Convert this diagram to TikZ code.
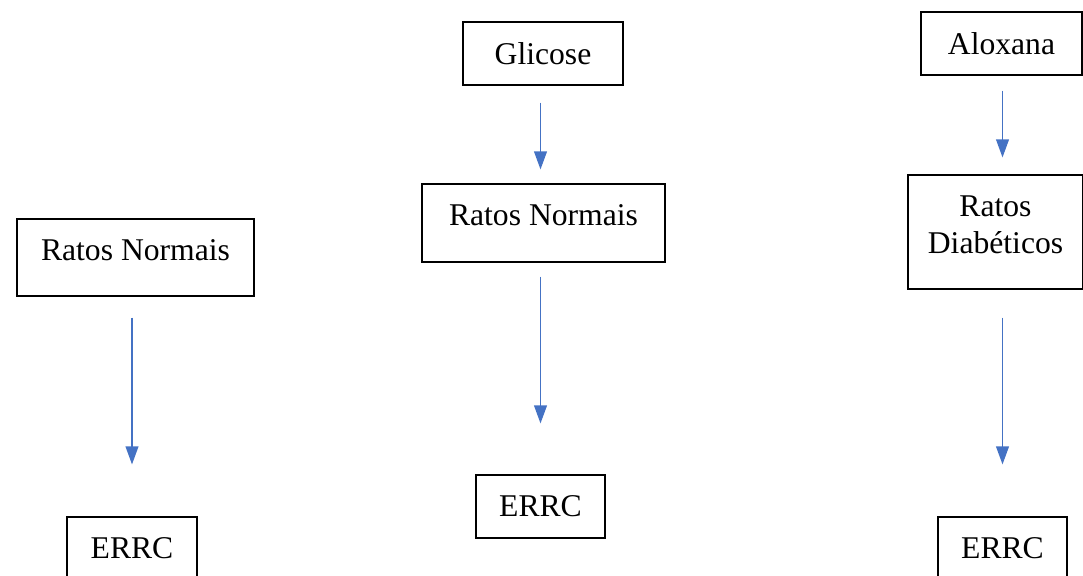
\documentclass[tikz,border=0pt]{standalone}
\usepackage{fontspec}
\setmainfont{Liberation Serif}
\usetikzlibrary{arrows.meta,positioning}

\definecolor{arrowblue}{RGB}{68,114,196}

\begin{document}
\begin{tikzpicture}[x=0.025cm,y=-0.025cm,>={Triangle[length=0.45cm,width=0.32cm]},
  box/.style={draw,line width=0.8pt,rectangle,inner sep=0pt,align=center,
    font=\fontsize{22.5}{26.3}\selectfont},
  tallbox/.style={box,text depth=11pt},
  flow/.style={->,arrowblue,line width=1pt}]
\useasboundingbox (0,0) rectangle (1083,575);
% left column
\node[tallbox,minimum width=5.925cm,minimum height=1.925cm] (rnA) at (135.5,257.5) {Ratos Normais};
\node[box,minimum width=3.25cm,minimum height=1.575cm] (errcA) at (132,548.5) {ERRC};
% middle column
\node[box,minimum width=4cm,minimum height=1.575cm] (glic) at (543,53.5) {Glicose};
\node[tallbox,minimum width=6.075cm,minimum height=1.95cm] (rnB) at (543.5,223) {Ratos Normais};
\node[box,minimum width=3.225cm,minimum height=1.575cm] (errcB) at (540.5,506.5) {ERRC};
% right column
\node[box,minimum width=4.025cm,minimum height=1.575cm] (alox) at (1001.5,43.5) {Aloxana};
\node[tallbox,minimum width=4.375cm,minimum height=2.85cm] (rdiab) at (995.5,232) {Ratos\\Diabéticos};
\node[box,minimum width=3.225cm,minimum height=1.575cm] (errcC) at (1002.5,548.5) {ERRC};

\draw[flow,shorten <=0.525cm,shorten >=1.3cm] (rnA.south -| errcA.north) -- (errcA.north);
\draw[flow,shorten <=0.425cm,shorten >=0.35cm] (glic.south -| errcB.north) -- (rnB.north -| errcB.north);
\draw[flow,shorten <=0.35cm,shorten >=1.275cm] (rnB.south -| errcB.north) -- (errcB.north);
\draw[flow,shorten <=0.375cm,shorten >=0.425cm] (alox.south -| errcC.north) -- (rdiab.north -| errcC.north);
\draw[flow,shorten <=0.7cm,shorten >=1.3cm] (rdiab.south -| errcC.north) -- (errcC.north);
\end{tikzpicture}
\end{document}
